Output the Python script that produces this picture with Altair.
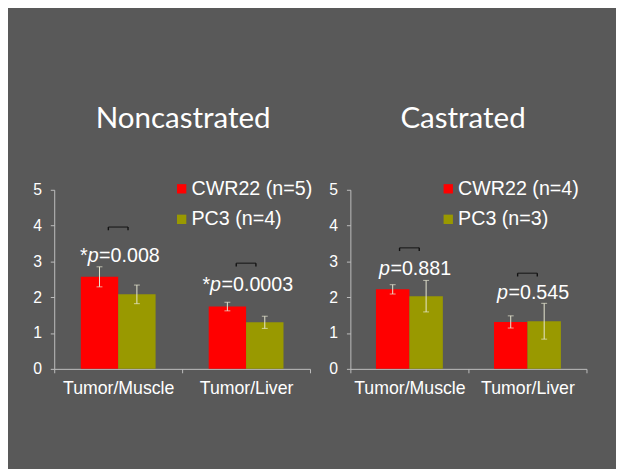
import altair as alt
import pandas as pd

sites = ["Tumor/Muscle", "Tumor/Liver"]

# Noncastrated panel
nc_title = "Noncastrated"
nc_labels = ["CWR22 (n=5)", "PC3 (n=4)"]
nc_cwr = [2.57, 1.74]
nc_cwr_err = [0.28, 0.12]
nc_pc3 = [2.08, 1.30]
nc_pc3_err = [0.26, 0.17]
nc_star = ["*", "*"]
nc_p = ["=0.008", "=0.0003"]
nc_p_y = [2.99, 2.17]
nc_bracket_y = [3.96, 2.95]

# Castrated panel
c_title = "Castrated"
c_labels = ["CWR22 (n=4)", "PC3 (n=3)"]
c_cwr = [2.22, 1.31]
c_cwr_err = [0.13, 0.17]
c_pc3 = [2.03, 1.33]
c_pc3_err = [0.44, 0.50]
c_star = ["", ""]
c_p = ["=0.881", "=0.545"]
c_p_y = [2.63, 1.94]
c_bracket_y = [3.38, 2.67]

RED = "#ff0000"
OLIVE = "#999900"
ERR = "#e8e8d2"
BG = "#595959"
TXT = "#ffffff"
AXC = "#bfbfbf"
SANS = "Liberation Sans"

# Arial em widths for centring the p-value strings
W = {"*": 0.389, "p": 0.556, "=": 0.584, ".": 0.278}


def strw(s, fs):
    return sum(W.get(ch, 0.556) for ch in s) * fs


def panel(title, labels, cwr, cwr_err, pc3, pc3_err, stars, ptexts, p_y, br_y,
          width, off_pad, title_dx, legend_x, text_shift):
    df = pd.DataFrame({
        "site": sites * 2,
        "series": [labels[0]] * 2 + [labels[1]] * 2,
        "value": cwr + pc3,
        "err": cwr_err + pc3_err,
    })
    df["lo"] = df["value"] - df["err"]
    df["hi"] = df["value"] + df["err"]

    ann = pd.DataFrame({"site": sites, "star": stars, "ptxt": ptexts,
                        "p_y": p_y, "br_y": br_y})
    ann["br_lo"] = ann["br_y"] - 0.09

    x_scale = alt.Scale(domain=sites, paddingInner=0, paddingOuter=0)
    x_axis = alt.Axis(title=None, labelAngle=0, tickBand="extent",
                      tickSize=4, labelPadding=7, labelFontSize=18,
                      labelFont=SANS, labelColor=TXT, domainColor=AXC,
                      tickColor=AXC)
    x = alt.X("site:N", sort=sites, scale=x_scale, axis=x_axis, title=None)
    xo = alt.XOffset("series:N",
                     scale=alt.Scale(domain=labels, paddingOuter=off_pad, paddingInner=0))
    yscale = alt.Scale(domain=[0, 5], nice=False)
    y_axis = alt.Axis(values=[0, 1, 2, 3, 4, 5], grid=False, tickSize=4,
                      labelPadding=9, labelFontSize=16, labelFont=SANS,
                      labelColor=TXT, domainColor=AXC, tickColor=AXC,
                      labelOverlap=False, title=None)

    def yn(f):
        return alt.Y(f, scale=yscale, axis=y_axis, title=None)

    color = alt.Color("series:N",
                      scale=alt.Scale(domain=labels, range=[RED, OLIVE]),
                      legend=alt.Legend(title=None, orient="none", legendX=legend_x,
                                        legendY=-11, symbolType="square",
                                        symbolSize=90, symbolStrokeWidth=0,
                                        labelFontSize=20, labelFont=SANS,
                                        labelColor=TXT, labelOffset=0,
                                        rowPadding=11, padding=0))

    bars = alt.Chart(df).mark_bar().encode(x=x, xOffset=xo, y=yn("value:Q"), color=color)
    err_rule = alt.Chart(df).mark_rule(color=ERR, strokeWidth=1).encode(
        x=x, xOffset=xo, y=yn("lo:Q"), y2="hi:Q")
    cap_lo = alt.Chart(df).mark_tick(color=ERR, orient="horizontal", size=6,
                                     thickness=1).encode(
        x=x, xOffset=xo, y=yn("lo:Q"))
    cap_hi = alt.Chart(df).mark_tick(color=ERR, orient="horizontal", size=6,
                                     thickness=1).encode(
        x=x, xOffset=xo, y=yn("hi:Q"))

    br_top = alt.Chart(ann).mark_tick(color="#111111", orient="horizontal",
                                      size=20, thickness=1.4).encode(
        x=x, y=yn("br_y:Q"))
    legs = [
        alt.Chart(ann).mark_rule(color="#111111", strokeWidth=1.4, xOffset=d).encode(
            x=x, y=yn("br_y:Q"), y2="br_lo:Q")
        for d in (-10, 10)
    ]

    texts = []
    for i in range(len(sites)):
        row = ann.iloc[[i]]
        pre = row["star"].iloc[0] + "p"
        total = strw(pre + row["ptxt"].iloc[0], 20)
        anchor = -total / 2 + strw(pre, 20) + text_shift
        common = dict(baseline="alphabetic", fontSize=20, font=SANS, color=TXT)
        texts.append(alt.Chart(row).mark_text(align="left", dx=anchor, **common).encode(
            x=x, y=yn("p_y:Q"), text="ptxt:N"))
        texts.append(alt.Chart(row).mark_text(align="right", dx=anchor - 0.5,
                                              fontStyle="italic", **common).encode(
            x=x, y=yn("p_y:Q"), text=alt.value("p")))
        if row["star"].iloc[0]:
            texts.append(alt.Chart(row).mark_text(align="right", dx=anchor - 11.5,
                                                  **common).encode(
                x=x, y=yn("p_y:Q"), text="star:N"))

    ttl = alt.Chart(pd.DataFrame({"t": [title]})).mark_text(
        font="Lato", fontSize=30, color=TXT, baseline="alphabetic", align="center").encode(
        x=alt.value(width / 2 + title_dx), y=alt.value(-63), text="t:N")

    return alt.layer(bars, err_rule, cap_lo, cap_hi, br_top, *legs, *texts, ttl).properties(
        width=width, height=182)


left = panel(nc_title, nc_labels, nc_cwr, nc_cwr_err, nc_pc3, nc_pc3_err, nc_star,
             nc_p, nc_p_y, nc_bracket_y, 260, 0.71, 1, 119.5, 2)
right = panel(c_title, c_labels, c_cwr, c_cwr_err, c_pc3, c_pc3_err, c_star,
              c_p, c_p_y, c_bracket_y, 240, 0.765, -5.5, 89.5, 6)

chart = alt.hconcat(left, right, spacing=41, bounds="flush").resolve_scale(
    color="independent", xOffset="independent").properties(
    background=BG,
    padding={"left": 25, "top": 94, "right": 29, "bottom": 69},
).configure_view(stroke=None)

chart.save("out.html", embed_options={"renderer": "svg", "actions": False})
